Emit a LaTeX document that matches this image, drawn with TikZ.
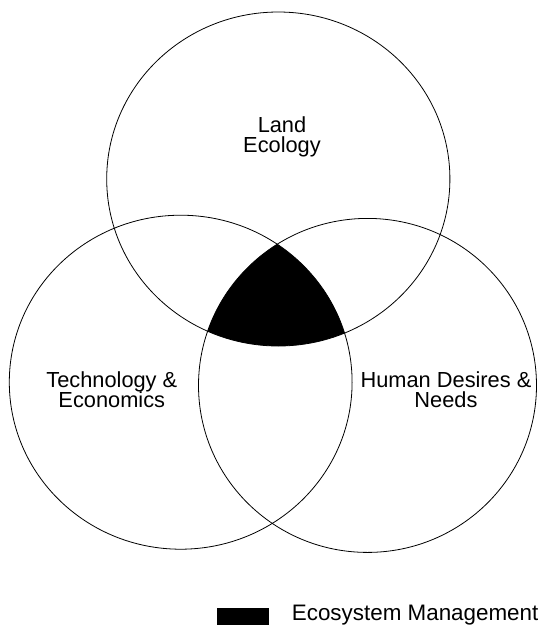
\documentclass[tikz,border=0pt]{standalone}
\usepackage{fontspec}
\setmainfont{Liberation Sans}
\begin{document}
\begin{tikzpicture}[x=1pt,y=-1pt,
  ring/.style={draw=black,line width=0.8pt},
  lbl/.style={font=\fontsize{21.8}{20.7}\selectfont,align=center,inner sep=0pt,anchor=base},
  legendtxt/.style={font=\fontsize{22.4}{22}\selectfont,inner sep=0pt,anchor=base west}]
\useasboundingbox (0,0) rectangle (538,625);
% intersection of the three circles
\begin{scope}
  \clip (278.3,179) ellipse [x radius=171.6, y radius=167];
  \clip (180.7,382.2) ellipse [x radius=171.4, y radius=167];
  \fill[black] (367.5,385.4) ellipse [x radius=169, y radius=167];
\end{scope}
\draw[ring] (278.3,179) ellipse [x radius=171.6, y radius=167];
\draw[ring] (180.7,382.2) ellipse [x radius=171.4, y radius=167];
\draw[ring] (367.5,385.4) ellipse [x radius=169, y radius=167];
\node[lbl] (land) at (282,152.7) {Land\\Ecology};
\node[lbl] (tech) at (111.8,407.7) {Technology \&\\Economics};
\node[lbl] (human) at (446,407.7) {Human Desires \&\\Needs};
\fill[black] (217.3,608.3) rectangle (269,625);
\node[legendtxt] (key) at (291.7,620) {Ecosystem Management};
\end{tikzpicture}
\end{document}
